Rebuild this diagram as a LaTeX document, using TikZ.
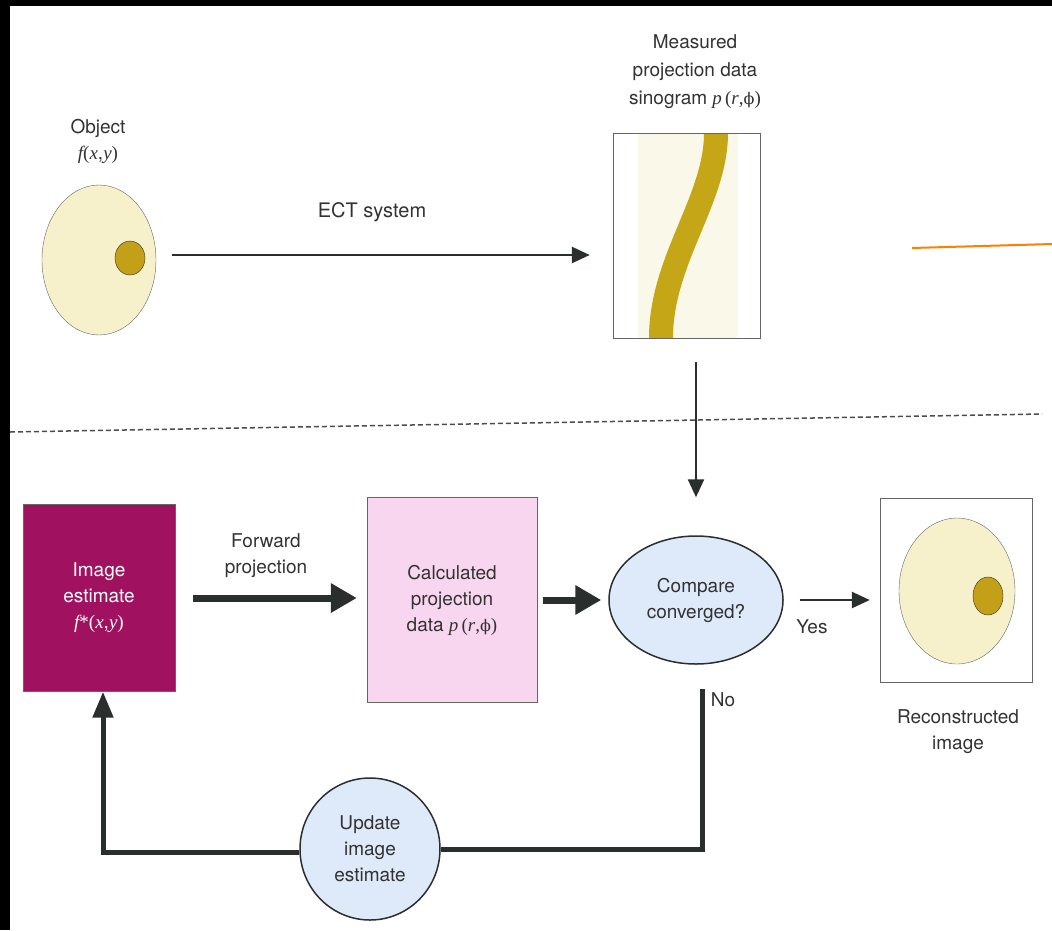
\documentclass[tikz,border=0pt]{standalone}
\usepackage{fontspec}
\setmainfont{TeX Gyre Heros}
\newfontfamily\varfont{Liberation Serif}
\newfontfamily\phifont{DejaVu Serif}
\newcommand{\mvar}[1]{{\varfont\itshape #1}}
\newcommand{\fxy}{\mvar{f}{\varfont(}\mvar{x},\mvar{y}{\varfont)}}
\newcommand{\prphi}{\mvar{p}\,{\varfont(}\mvar{r}{\varfont,}{\phifont\fontsize{16}{20}\selectfont ϕ}{\varfont)}}
\usetikzlibrary{shapes.geometric,arrows.meta}

\definecolor{linegray}{RGB}{42,46,45}
\definecolor{textgray}{RGB}{50,50,50}
\definecolor{objcream}{RGB}{246,241,203}
\definecolor{spotolive}{RGB}{196,160,24}
\definecolor{bandolive}{RGB}{196,166,22}
\definecolor{sinocream}{RGB}{250,248,232}
\definecolor{estmagenta}{RGB}{160,18,96}
\definecolor{calcpink}{RGB}{248,214,240}
\definecolor{cmpblue}{RGB}{222,234,250}
\definecolor{markorange}{RGB}{255,128,0}

\begin{document}
\begin{tikzpicture}[x=1pt, y=-1pt, every node/.style={font=\fontsize{19}{26}\selectfont, align=center, text=textgray}]
  \tikzset{
    thinarrow/.style={draw=linegray, line width=2.5pt, -{Triangle[length=18pt,width=16pt]}},
    thickarrow/.style={draw=linegray, line width=7pt, -{Triangle[length=26pt,width=28pt]}},
    loopline/.style={draw=linegray, line width=5pt},
    blob/.style={ellipse, draw=gray!80!black, fill=objcream, inner sep=0pt},
    spot/.style={ellipse, draw=linegray, fill=spotolive, inner sep=0pt},
    framebox/.style={draw=gray!80!black, inner sep=0pt}
  }
  \useasboundingbox (0,0) rectangle (1052,930);

  % 黒い縁 (上と左)
  \fill[black] (0,0) rectangle (1052,6);
  \fill[black] (0,0) rectangle (10,930);

  % 物体 f(x,y)
  \node[blob, minimum width=114pt, minimum height=150pt] (obj) at (99,260) {};
  \node[spot, minimum width=30pt, minimum height=34pt] (objspot) at (130,258) {};
  \node (objlbl) at (98,141) {Object\\\fxy};

  % サイノグラム
  \fill[sinocream] (638,133) rectangle (738,338);
  \begin{scope}
    \clip (613,133) rectangle (760,338);
    \draw[bandolive, line width=24pt] (716,120) -- (716,133) .. controls (716,200) and (661,260) .. (661,338) -- (661,350);
  \end{scope}
  \node[framebox, minimum width=147pt, minimum height=205pt] (sino) at (686.5,235.5) {};
  \node[font=\fontsize{19}{28}\selectfont] (sinolbl) at (695,72) {Measured\\projection data\\sinogram \prphi};

  % 橙色の線
  \draw[markorange, line width=2pt] (912,248) -- (1052,244);

  % 区切りの破線
  \draw[gray!60!black, line width=1.5pt, dash pattern=on 5pt off 3pt] (10,432) -- (1042,414);

  % 下段のブロック
  \node[framebox, fill=estmagenta, text=white, minimum width=152pt, minimum height=187pt] (est) at (99,598) {Image\\estimate\\\mvar{f}{\varfont *}{\varfont(}\mvar{x},\mvar{y}{\varfont)}};
  \node[framebox, fill=calcpink, minimum width=170pt, minimum height=205pt] (calc) at (452,600) {Calculated\\projection\\data \prphi};
  \node[ellipse, draw=linegray, line width=1.5pt, fill=cmpblue, inner sep=0pt, minimum width=174pt, minimum height=128pt] (cmp) at (696,600) {Compare\\converged?};
  \node[ellipse, draw=linegray, line width=1.5pt, fill=cmpblue, inner sep=0pt, minimum width=140pt, minimum height=142pt] (upd) at (370,849) {Update\\image\\estimate};

  % 再構成画像
  \node[framebox, minimum width=152pt, minimum height=184pt] (recon) at (956,590) {};
  \node[blob, minimum width=116pt, minimum height=146pt] (reconblob) at (957,591) {};
  \node[spot, minimum width=30pt, minimum height=38pt] (reconspot) at (988,596) {};
  \node (reconlbl) at (958,732) {Reconstructed\\image};

  % 矢印
  \draw[thinarrow, shorten <=16pt, shorten >=23pt] ([yshift=5pt]obj.east) -- ([yshift=5pt]obj.east -| sino.west);
  \node[font=\fontsize{20}{26}\selectfont] (ectlbl) at (372,212) {ECT system};
  \draw[thinarrow, shorten <=24pt, shorten >=38pt] (sino.south -| cmp.north) -- (cmp.north);
  \draw[thickarrow, shorten <=18pt, shorten >=10pt] (est.east) -- (est.east -| calc.west);
  \node (fwdlbl) at (266,556) {Forward\\projection};
  \draw[thickarrow, shorten <=6pt, shorten >=7pt] (calc.east) -- (cmp.west);
  \draw[thinarrow, shorten <=16pt, shorten >=10pt] (cmp.east) -- (cmp.east -| recon.west);
  \node (yeslbl) at (812,627) {Yes};

  % 反復ループ
  \draw[loopline] ([xshift=6pt,yshift=-24pt]cmp.south) |- (upd.east);
  \node (nolbl) at (723,700) {No};
  \draw[loopline, -{Triangle[length=26pt,width=20pt]}] ([yshift=-3pt]upd.west) -| ([xshift=4pt]est.south);
\end{tikzpicture}
\end{document}
